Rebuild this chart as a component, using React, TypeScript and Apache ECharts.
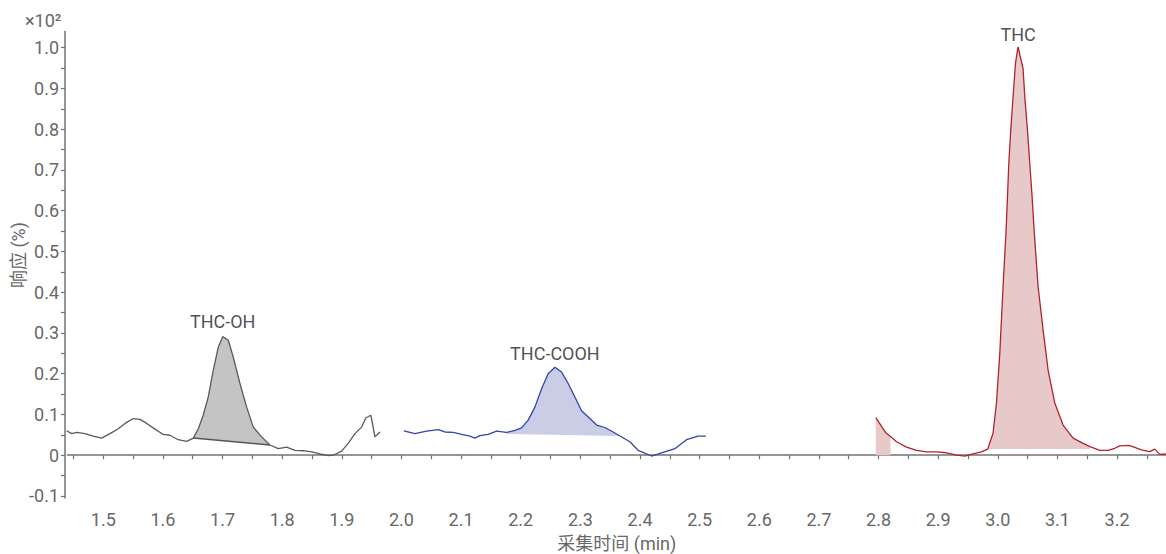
import React, { useEffect, useRef } from "react";
import * as echarts from "echarts";

// ---- Data ----
const grayX = [1.4386, 1.447, 1.4554, 1.4693, 1.4832, 1.4973, 1.5112, 1.5251, 1.5364, 1.5503, 1.5615, 1.5728, 1.5867, 1.6006, 1.6118, 1.6257, 1.6398, 1.6509, 1.6593, 1.6676, 1.676, 1.6844, 1.6928, 1.7002, 1.7096, 1.7179, 1.7292, 1.7404, 1.7515, 1.7656, 1.7795, 1.7934, 1.8075, 1.8214, 1.8353, 1.8494, 1.8633, 1.8772, 1.8856, 1.8997, 1.9107, 1.922, 1.9332, 1.9404, 1.9488, 1.9555, 1.9639];
const grayY = [0.060, 0.053, 0.056, 0.053, 0.047, 0.042, 0.053, 0.065, 0.078, 0.090, 0.088, 0.078, 0.064, 0.051, 0.049, 0.038, 0.034, 0.042, 0.065, 0.098, 0.143, 0.208, 0.265, 0.291, 0.282, 0.241, 0.176, 0.118, 0.069, 0.045, 0.025, 0.016, 0.020, 0.012, 0.011, 0.008, 0.003, -0.001, 0.000, 0.010, 0.029, 0.053, 0.069, 0.092, 0.098, 0.045, 0.057];

const blueX = [2.0041, 2.0225, 2.0422, 2.0616, 2.0728, 2.0868, 2.1008, 2.1148, 2.1232, 2.1316, 2.1454, 2.1595, 2.1763, 2.1902, 2.2014, 2.2125, 2.2237, 2.235, 2.246, 2.2573, 2.2685, 2.2796, 2.2908, 2.302, 2.3159, 2.3272, 2.3411, 2.355, 2.3662, 2.383, 2.3969, 2.4194, 2.4388, 2.4584, 2.478, 2.4975, 2.5104];
const blueY = [0.060, 0.053, 0.059, 0.063, 0.057, 0.056, 0.051, 0.047, 0.042, 0.048, 0.051, 0.059, 0.056, 0.061, 0.067, 0.086, 0.118, 0.163, 0.200, 0.216, 0.204, 0.176, 0.143, 0.109, 0.090, 0.074, 0.068, 0.057, 0.047, 0.033, 0.012, -0.002, 0.007, 0.016, 0.038, 0.047, 0.047];

const redX = [2.7954, 2.8122, 2.82, 2.8301, 2.8469, 2.8636, 2.8804, 2.8971, 2.9139, 2.9307, 2.9446, 2.9585, 2.9726, 2.983, 2.992, 2.9977, 3.0033, 3.0088, 3.0139, 3.0162, 3.0184, 3.0217, 3.0256, 3.0296, 3.0339, 3.0423, 3.0452, 3.0497, 3.0536, 3.0575, 3.0608, 3.0675, 3.0759, 3.0843, 3.0955, 3.1094, 3.1262, 3.143, 3.1545, 3.1709, 3.1848, 3.196, 3.2044, 3.22, 3.2296, 3.2408, 3.2547, 3.2631, 3.2715, 3.2816];
const redY = [0.092, 0.055, 0.046, 0.033, 0.020, 0.012, 0.008, 0.008, 0.006, 0.000, -0.002, 0.003, 0.008, 0.015, 0.054, 0.128, 0.250, 0.414, 0.553, 0.634, 0.716, 0.798, 0.880, 0.962, 1.002, 0.949, 0.880, 0.798, 0.716, 0.634, 0.553, 0.414, 0.307, 0.209, 0.128, 0.074, 0.042, 0.029, 0.021, 0.012, 0.012, 0.017, 0.023, 0.024, 0.019, 0.013, 0.009, 0.015, 0.002, 0.003];

// Integrated peak areas: [x start, x end], baseline [y at start, y at end]
const areaNames = ["THC-OH", "THC-COOH", "THC-pre", "THC"];
const areaRanges = [[1.6509, 1.7795], [2.1763, 2.3662], [2.7954, 2.82], [2.983, 3.1545]];
const areaBaselines = [[0.042, 0.025], [0.052, 0.047], [0.0, 0.0], [0.015, 0.015]];

const peakLabels = ["THC-OH", "THC-COOH", "THC"];
const peakX = [1.7002, 2.2573, 3.0339];
const peakY = [0.291, 0.216, 1.002];

const xTickValues = [1.45, 1.5, 1.55, 1.6, 1.65, 1.7, 1.75, 1.8, 1.85, 1.9, 1.95, 2.0, 2.05, 2.1, 2.15, 2.2, 2.25, 2.3, 2.35, 2.4, 2.45, 2.5, 2.55, 2.6, 2.65, 2.7, 2.75, 2.8, 2.85, 2.9, 2.95, 3.0, 3.05, 3.1, 3.15, 3.2, 3.25];
const xLabelValues = [1.5, 1.6, 1.7, 1.8, 1.9, 2.0, 2.1, 2.2, 2.3, 2.4, 2.5, 2.6, 2.7, 2.8, 2.9, 3.0, 3.1, 3.2];
const yTickValues = [-0.1, -0.05, 0, 0.05, 0.1, 0.15, 0.2, 0.25, 0.3, 0.35, 0.4, 0.45, 0.5, 0.55, 0.6, 0.65, 0.7, 0.75, 0.8, 0.85, 0.9, 0.95, 1.0];
const yLabelValues = [-0.1, 0, 0.1, 0.2, 0.3, 0.4, 0.5, 0.6, 0.7, 0.8, 0.9, 1.0];

const FONT = "Roboto, 'Noto Sans CJK SC', sans-serif";
const AXIS_COLOR = "#737373";
const LABEL_COLOR = "#686868";

const zip = (xs: number[], ys: number[]) => xs.map((x, i) => [x, ys[i]]);

const traces = [
  { x: grayX, y: grayY, line: "#5a5a5a" },
  { x: blueX, y: blueY, line: "#3445a8" },
  { x: redX, y: redY, line: "#b0232a" },
];
const areaFill = ["#c4c4c4", "#c9cee6", "#e8c9ca", "#e8c9ca"];
const areaTrace = [0, 1, 2, 2];

export default function App() {
  const ref = useRef<HTMLDivElement>(null);
  useEffect(() => {
    if (!ref.current) return;
    const chart = echarts.init(ref.current, null, { renderer: "svg" });

    const renderArea = (params: any, api: any) => {
      const i = params.dataIndex;
      const t = traces[areaTrace[i]];
      const [x0, x1] = areaRanges[i];
      const [b0, b1] = areaBaselines[i];
      const pts: number[][] = [];
      t.x.forEach((x, k) => {
        if (x >= x0 - 1e-9 && x <= x1 + 1e-9) pts.push(api.coord([x, t.y[k]]));
      });
      const pEnd = api.coord([x1, b1]);
      const pStart = api.coord([x0, b0]);
      pts.push(pEnd);
      pts.push(pStart);
      const children: any[] = [
        { type: "polygon", shape: { points: pts }, style: { fill: areaFill[i], stroke: "none" } },
      ];
      if (i === 0) {
        children.push({
          type: "line",
          shape: { x1: pStart[0], y1: pStart[1], x2: pEnd[0], y2: pEnd[1] },
          style: { stroke: "#555", lineWidth: 1.5 },
        });
      }
      return { type: "group", children };
    };

    chart.setOption({
      animation: false,
      backgroundColor: "#fff",
      textStyle: { fontFamily: FONT },
      grid: { left: 67.5, right: 0, top: 31.4, bottom: 56, containLabel: false, outerBoundsMode: "none" },
      xAxis: {
        type: "value",
        min: 1.44,
        max: 3.282,
        offset: 6,
        name: "采集时间 (min)",
        nameLocation: "middle",
        nameGap: 30,
        nameTextStyle: { fontSize: 18, color: LABEL_COLOR, fontFamily: FONT },
        axisLine: { show: true, lineStyle: { color: AXIS_COLOR, width: 1.5 } },
        axisTick: { show: true, length: 4, customValues: xTickValues, lineStyle: { color: AXIS_COLOR, width: 1.2 } },
        axisLabel: {
          customValues: xLabelValues,
          fontSize: 18,
          color: LABEL_COLOR,
          fontFamily: FONT,
          margin: 6,
          formatter: (v: number) => v.toFixed(1),
        },
        splitLine: { show: false },
      },
      yAxis: {
        type: "value",
        min: -0.105,
        max: 1.04,
        offset: 2.5,
        axisLine: { show: true, lineStyle: { color: AXIS_COLOR, width: 1.5 } },
        axisTick: { show: true, length: 4, customValues: yTickValues, lineStyle: { color: AXIS_COLOR, width: 1.2 } },
        axisLabel: {
          customValues: yLabelValues,
          fontSize: 18,
          color: LABEL_COLOR,
          fontFamily: FONT,
          margin: 6,
          formatter: (v: number) => (Math.abs(v) < 1e-9 ? "0" : v.toFixed(1)),
        },
        splitLine: { show: false },
      },
      graphic: [
        {
          type: "text",
          left: 25,
          top: 11,
          style: { text: "×10²", fontSize: 18, fill: LABEL_COLOR, fontFamily: FONT },
        },
        {
          type: "text",
          x: 18,
          y: 255,
          rotation: Math.PI / 2,
          style: {
            text: "响应 (%)",
            fontSize: 18,
            fill: LABEL_COLOR,
            fontFamily: FONT,
            align: "center",
            verticalAlign: "middle",
          },
        },
      ],
      series: [
        {
          type: "custom",
          coordinateSystem: "cartesian2d",
          renderItem: renderArea,
          data: areaNames.map((_, i) => [areaRanges[i][0], areaBaselines[i][0]]),
          z: 1,
          silent: true,
        },
        ...traces.map((t) => ({
          type: "line",
          data: zip(t.x, t.y),
          showSymbol: false,
          lineStyle: { color: t.line, width: 1.3 },
          z: 3,
        })),
        {
          type: "scatter",
          symbolSize: 0,
          data: peakLabels.map((name, i) => ({
            value: [peakX[i], peakY[i]],
            label: {
              show: true,
              position: "top",
              distance: [6, 5, 3][i],
              formatter: name,
              fontSize: 18,
              color: "#222",
              fontFamily: FONT,
            },
          })),
          z: 4,
        },
      ],
    });
    return () => chart.dispose();
  }, []);
  return <div ref={ref} style={{ position: "fixed", left: 0, top: 0, width: 1166, height: 554 }} />;
}
